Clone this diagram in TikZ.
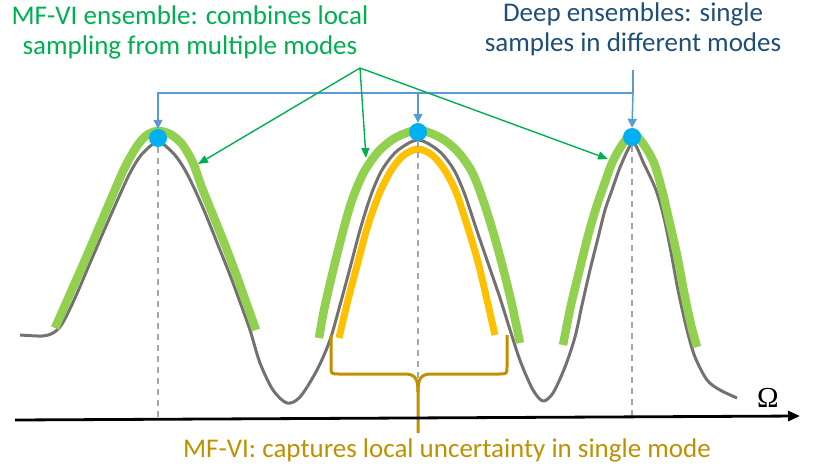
\documentclass[tikz,border=0pt]{standalone}
\usepackage{fontspec}
\setmainfont{Carlito}
\newfontfamily\omegafont{Liberation Serif}
\usetikzlibrary{arrows.meta}
\definecolor{txtgreen}{HTML}{00B050}
\definecolor{lightgreen}{HTML}{92D050}
\definecolor{modeyellow}{HTML}{FFC000}
\definecolor{curvegray}{HTML}{767171}
\definecolor{dotblue}{HTML}{00B0F0}
\definecolor{arrowblue}{HTML}{5B9BD5}
\definecolor{deepblue}{HTML}{1F4E79}
\definecolor{gold}{HTML}{BF9000}
\definecolor{dashgray}{HTML}{A6A6A6}
\tikzset{
  landscape/.style={curvegray, line width=3pt, line join=round},
  mfvi/.style={lightgreen, line width=8.5pt},
  localvi/.style={modeyellow, line width=7pt},
  modeline/.style={dashgray, line width=1.5pt, dash pattern=on 6pt off 5pt},
  sample/.style={circle, fill=dotblue, minimum size=18pt, inner sep=0pt},
  deeparrow/.style={arrowblue, line width=1.5pt, -{Triangle[length=9pt,width=9pt]}},
  deepline/.style={arrowblue, line width=1.5pt},
  ensarrow/.style={txtgreen, line width=1.4pt, -{Triangle[length=10pt,width=8pt]}},
  lbl/.style={font=\fontsize{27}{30}\selectfont, align=center, inner sep=0pt},
  bracestyle/.style={gold, line width=3pt, line join=round},
}
\begin{document}
\begin{tikzpicture}[x=1pt,y=-1pt]
\useasboundingbox (0,0) rectangle (813,473);
% loss landscape
\draw[landscape] plot[smooth, tension=0.5] coordinates {
 (20,335) (42,336) (53,333) (62,324) (75,298) (90,263) (106,226) (122,190) (131,171) (142,154) (158,142)
 (174,154) (185,170) (195,190) (206,215) (218,245) (230,275) (240,302) (250,330) (260,363) (273,390) (287,403)
 (300,397) (317,370) (330,340) (340,305) (350,268) (360,230) (371,195) (382,170) (397,151) (418,140)
 (439,151) (454,170) (465,195) (476,228) (488,263) (500,298) (511,333) (521,363) (533,390) (543,401)
 (553,393) (565,367) (575,337) (582,305) (590,270) (598,238) (605,210) (612,190) (621,165) (633,143)
 (644,164) (656,190) (664,218) (671,252) (678,290) (687,330) (695,357) (707,380) (720,390) (737,398)};
% MF-VI ensemble components
\draw[mfvi] plot[smooth, tension=0.5] coordinates {
 (55,328) (70,294) (85,260) (100,225) (114,192) (125,167) (137,146) (147,135) (158,131)
 (170,134) (182,144) (193,163) (202,188) (213,215) (225,245) (236,274) (246,302) (256,330)};
\draw[mfvi] plot[smooth, tension=0.5] coordinates {
 (319,338) (324,310) (332,275) (342,235) (352,200) (364,172) (378,152) (395,138) (418,130)
 (441,138) (458,152) (472,172) (483,200) (494,235) (504,272) (512,305) (520,343)};
\draw[mfvi] plot[smooth, tension=0.5] coordinates {
 (563,345) (571,305) (580,268) (589,232) (597,205) (604,185) (612,163) (622,145) (633,133)
 (644,145) (654,163) (662,190) (669,220) (677,255) (684,292) (691,325) (697,347)};
% single MF-VI
\draw[localvi] plot[smooth, tension=0.5] coordinates {
 (339,338) (348,300) (358,262) (368,225) (380,192) (392,169) (404,155) (418,149)
 (432,155) (444,169) (456,192) (467,225) (478,262) (487,300) (495,335)};
% axis
\coordinate (axL) at (15,420);
\coordinate (axR) at (800,416);
% samples
\node[sample] (d1) at (158,138) {};
\node[sample] (d2) at (418,132) {};
\node[sample] (d3) at (632,137) {};
\coordinate (f1) at (158,418);
\coordinate (f2) at (418,418);
\coordinate (f3) at (632,417);
\draw[modeline] (d1.south) -- (f1);
\draw[modeline] (d2.south) -- (f2);
\draw[modeline] (d3.south) -- (f3);
% brace
\coordinate (bL) at (331,335);
\coordinate (bR) at (507,335);
\coordinate (bT) at (418,433);
\draw[bracestyle]
  (bL) -- (331,366) .. controls (331,374) .. (339,374) -- (405,374)
  .. controls (416,374) and (418,380) .. (418,392) -- (bT);
\draw[bracestyle]
  (bR) -- (507,366) .. controls (507,374) .. (499,374) -- (431,374)
  .. controls (420,374) and (418,380) .. (418,392);
\draw[black, line width=2.8pt, -{Triangle[length=12pt,width=10pt]}] (axL) -- (axR);
\node[font=\omegafont\fontsize{29}{29}\selectfont, inner sep=0pt, anchor=base] (omega) at (768,407) {Ω};
% labels
\node[lbl, txtgreen, anchor=north] (enstext) at (190,6) {MF-VI ensemble: combines local\\sampling from multiple modes};
\node[lbl, deepblue, anchor=north] (deeptext) at (633,3) {Deep ensembles: single\\samples in different modes};
\node[lbl, gold, anchor=base] (vitext) at (447,457) {MF-VI: captures local uncertainty in single mode};
% deep ensemble arrows
\coordinate (bj) at (633,93);
\coordinate (bm) at (418,93);
\coordinate (bs) at (633,70);
\draw[deepline] (bs) -- (bj);
\draw[deeparrow] (bj) -| (d1.north);
\draw[deeparrow] (bm) -- (d2.north);
\draw[deeparrow] (bj) -- (d3.north);
% MF-VI ensemble arrows
\coordinate (eo) at (360,68);
\coordinate (g1) at (198,164);
\coordinate (g2) at (366,158);
\coordinate (g3) at (608,159);
\draw[ensarrow] (eo) -- (g1);
\draw[ensarrow] (eo) -- (g2);
\draw[ensarrow] (eo) -- (g3);
\end{tikzpicture}
\end{document}
